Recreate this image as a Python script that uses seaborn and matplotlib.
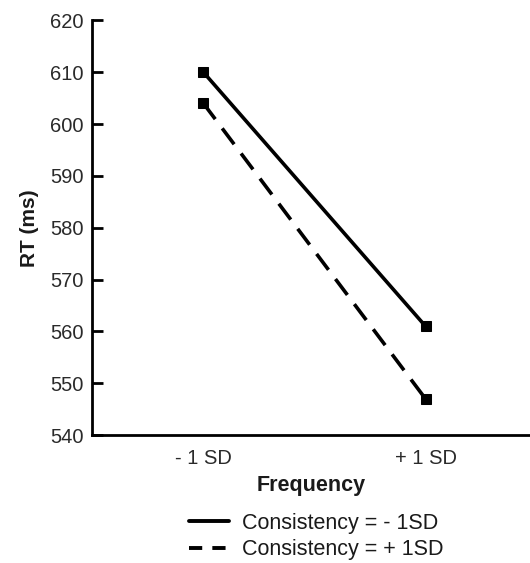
import matplotlib
matplotlib.use("Agg")
import matplotlib.pyplot as plt
import seaborn as sns
import pandas as pd
from matplotlib.lines import Line2D

categories = ["- 1 SD", "+ 1 SD"]
series_names = ["Consistency = - 1SD", "Consistency = + 1SD"]
low_consistency = [610, 561]
high_consistency = [604, 547]
y_ticks = [540, 550, 560, 570, 580, 590, 600, 610, 620]

sns.set_theme(style="white")
plt.rcParams['font.family'] = ['Liberation Sans', 'DejaVu Sans']

df = pd.DataFrame({
    "x": [0, 1, 0, 1],
    "RT": low_consistency + high_consistency,
    "series": [series_names[0]] * 2 + [series_names[1]] * 2,
})

fig = plt.figure(figsize=(5.30, 5.63), dpi=100)
ax = fig.add_axes([0.174, 0.227, 0.826, 0.737])
sns.lineplot(data=df, x="x", y="RT", hue="series", style="series",
             palette=["black", "black"], dashes=[(None, None), (5.5, 3.2)],
             markers=["s", "s"], markersize=7, linewidth=2.6,
             markeredgecolor="black", legend=False, ax=ax)

ax.set_xlim(-0.5, 1.47)
ax.set_ylim(540, 620)
ax.set_yticks(y_ticks)
ax.set_xticks([0, 1])
ax.set_xticklabels(categories, fontsize=14.5, color="#2a2a2a")
ax.set_yticklabels([str(v) for v in y_ticks], fontsize=14.5, color="#2a2a2a")
ax.tick_params(axis="y", direction="in", length=8, width=2, color="black", pad=6, left=True)
ax.tick_params(axis="x", length=0, pad=10)
for s in ["top", "right"]:
    ax.spines[s].set_visible(False)
for s in ["left", "bottom"]:
    ax.spines[s].set_color("black")
    ax.spines[s].set_linewidth(2)
ax.set_xlabel("Frequency", fontsize=15.5, fontweight="bold", labelpad=5, color="#1a1a1a")
ax.set_ylabel("RT (ms)", fontsize=15, fontweight="bold", labelpad=8, color="#1a1a1a")

handles = [Line2D([0], [0], color="black", lw=2.8),
           Line2D([0], [0], color="black", lw=2.8, dashes=(3.4, 2.6))]
leg = fig.legend(handles, series_names, loc="upper left", bbox_to_anchor=(0.357, 0.089),
                 frameon=False, fontsize=15.5, handlelength=1.85, handletextpad=0.6,
                 labelspacing=0.25, borderaxespad=0, borderpad=0)
for t in leg.get_texts():
    t.set_color("#1a1a1a")

fig.savefig("out.png", dpi=100, facecolor="white")
